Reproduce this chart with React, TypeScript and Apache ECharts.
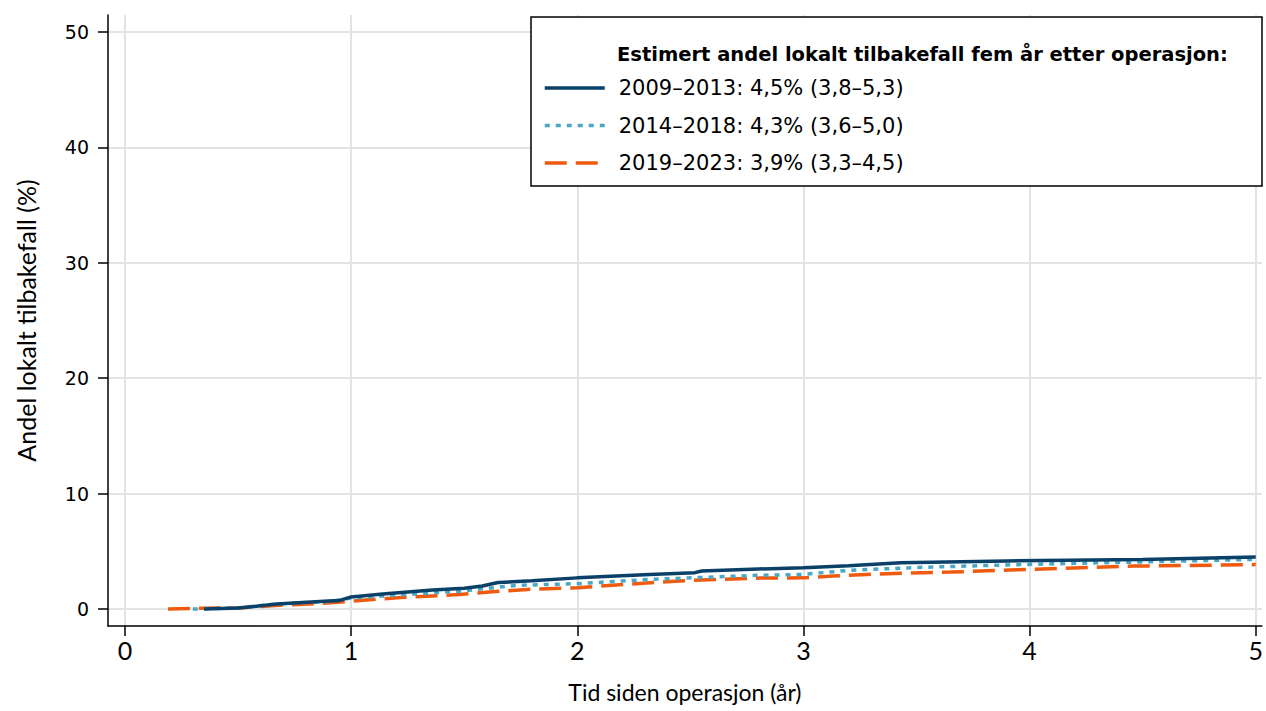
import React, { useEffect, useRef } from "react";
import * as echarts from "echarts";

const xTicks = [0, 1, 2, 3, 4, 5];
const yTicks = [0, 10, 20, 30, 40, 50];

const seriesNames = [
  "2009–2013: 4,5% (3,8–5,3)",
  "2014–2018: 4,3% (3,6–5,0)",
  "2019–2023: 3,9% (3,3–4,5)",
];
const legendTitle = "Estimert andel lokalt tilbakefall fem år etter operasjon:";
const xName = "Tid siden operasjon (år)";
const yName = "Andel lokalt tilbakefall (%)";

const s2009: [number, number][] = [
  [0.35, 0], [0.5, 0.08], [0.67, 0.43], [0.9, 0.7], [0.95, 0.75], [1.0, 1.05], [1.14, 1.3],
  [1.36, 1.65], [1.5, 1.8], [1.58, 2.0], [1.65, 2.3], [1.8, 2.45], [2.0, 2.7],
  [2.32, 3.0], [2.52, 3.15], [2.55, 3.3], [2.8, 3.47], [3.0, 3.57], [3.2, 3.75],
  [3.43, 4.0], [3.9, 4.17], [4.5, 4.3], [5.0, 4.5],
];
const s2014: [number, number][] = [
  [0.3, 0], [0.5, 0.1], [0.67, 0.43], [0.9, 0.65], [1.0, 0.95], [1.2, 1.2], [1.48, 1.55],
  [1.73, 2.05], [2.0, 2.2], [2.32, 2.57], [2.8, 2.92], [3.0, 3.0], [3.2, 3.35],
  [3.5, 3.6], [3.9, 3.82], [4.3, 4.0], [5.0, 4.3],
];
const s2019: [number, number][] = [
  [0.19, 0], [0.32, 0.07], [0.51, 0.1], [0.7, 0.35], [0.86, 0.47], [1.0, 0.68], [1.22, 1.0],
  [1.48, 1.25], [1.61, 1.47], [1.78, 1.7], [2.0, 1.85], [2.26, 2.2], [2.45, 2.43],
  [2.62, 2.57], [2.81, 2.69], [3.0, 2.7], [3.13, 2.86], [3.28, 3.0], [3.47, 3.12],
  [3.65, 3.2], [3.91, 3.38], [4.46, 3.72], [5.0, 3.85],
];

const colors = ["#0b4068", "#4aa8c4", "#f05a0f"];
const NARROW = "'Liberation Sans Narrow', Lato, sans-serif";
const WIDE = "'DejaVu Sans', sans-serif";

export default function App() {
  const ref = useRef<HTMLDivElement>(null);
  useEffect(() => {
    if (!ref.current) return;
    const chart = echarts.init(ref.current, undefined, { renderer: "svg" });
    const lineTypes: any[] = ["solid", [5, 6], [22, 9]];
    const datasets = [s2009, s2014, s2019];
    chart.setOption({
      animation: false,
      backgroundColor: "#ffffff",
      grid: { left: 108, right: 4, top: 15, bottom: 85, containLabel: false },
      xAxis: {
        type: "value",
        min: -0.075,
        max: 5.027,
        name: xName,
        nameLocation: "middle",
        nameGap: 54,
        nameTextStyle: { fontFamily: NARROW, fontSize: 23, color: "#000" },
        axisLine: { show: true, onZero: false, lineStyle: { color: "#000", width: 1.5 } },
        axisTick: { show: true, length: 10, customValues: xTicks, lineStyle: { color: "#000", width: 1.5 } },
        axisLabel: { customValues: xTicks, margin: 11, fontFamily: NARROW, fontSize: 25, color: "#000" },
        splitLine: { show: true, lineStyle: { color: "#e3e3e3", width: 2 } },
      },
      yAxis: {
        type: "value",
        min: -1.47,
        max: 51.47,
        name: yName,
        nameLocation: "middle",
        nameRotate: 90,
        nameGap: 70,
        nameTextStyle: { fontFamily: NARROW, fontSize: 25, color: "#000" },
        axisLine: { show: true, onZero: false, lineStyle: { color: "#000", width: 1.5 } },
        axisTick: { show: true, length: 10, customValues: yTicks, lineStyle: { color: "#000", width: 1.5 } },
        axisLabel: { customValues: yTicks, margin: 19, fontFamily: WIDE, fontSize: 19, color: "#000" },
        splitLine: { show: true, lineStyle: { color: "#e3e3e3", width: 2 } },
      },
      legend: {
        orient: "vertical",
        left: 543,
        top: 75,
        padding: 0,
        itemWidth: 60,
        itemHeight: 14,
        itemGap: 11.5,
        z: 100,
        data: seriesNames,
        itemStyle: { opacity: 0 },
        lineStyle: { width: 3.5 },
        textStyle: { fontFamily: WIDE, fontSize: 21, color: "#000", lineHeight: 26, padding: [0, 0, 0, 9] },
      },
      graphic: [
        {
          type: "rect",
          shape: { x: 531, y: 17, width: 731, height: 169 },
          style: { fill: "#fff", stroke: "#000", lineWidth: 1.5 },
          z: 50,
        },
        {
          type: "text",
          x: 617,
          y: 54,
          style: { text: legendTitle, fontFamily: WIDE, fontWeight: "bold", fontSize: 19.5, fill: "#000", verticalAlign: "middle" },
          z: 100,
        },
      ],
      series: datasets.map((d, i) => ({
        name: seriesNames[i],
        type: "line",
        data: d,
        symbol: "none",
        showSymbol: false,
        z: 5 - i,
        lineStyle: { color: colors[i], width: 3.5, type: lineTypes[i] },
        itemStyle: { color: colors[i] },
      })),
    });
    return () => chart.dispose();
  }, []);
  return <div ref={ref} style={{ position: "fixed", left: 0, top: 0, width: 1266, height: 711 }} />;
}
